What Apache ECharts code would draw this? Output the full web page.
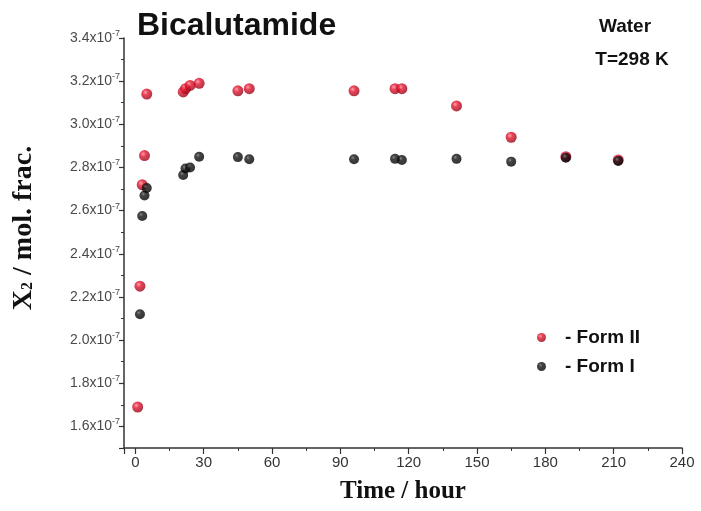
<!DOCTYPE html>
<html>
<head>
<meta charset="utf-8">
<script src="https://cdn.jsdelivr.net/npm/echarts@6/dist/echarts.min.js"></script>
<style>
html,body{margin:0;padding:0;background:#fff;}
#chart{width:701px;height:511px;}
</style>
</head>
<body>
<div id="chart"></div>
<script>
// Time (hour) and mole fraction values (in units of 1e-7)
const hoursII = [1, 2, 3, 4, 5, 21, 22, 24, 28, 45, 50, 96, 114, 117, 141, 165, 189, 212];
const formII  = [1.69, 2.25, 2.72, 2.855, 3.14, 3.15, 3.165, 3.18, 3.19, 3.155, 3.165, 3.155, 3.165, 3.165, 3.085, 2.94, 2.85, 2.835];
const hoursI  = [2, 3, 4, 5, 21, 22, 24, 28, 45, 50, 96, 114, 117, 141, 165, 189, 212];
const formI   = [2.12, 2.575, 2.67, 2.705, 2.765, 2.795, 2.80, 2.85, 2.848, 2.838, 2.838, 2.84, 2.835, 2.84, 2.827, 2.845, 2.83];
const seriesNames = ['Form II', 'Form I'];
const xTickStep = 30;
const yTickStep = 0.2;

const redBall = {type:'radial', x:0.38, y:0.35, r:0.7, colorStops:[
  {offset:0, color:'#ff8a96'}, {offset:0.35, color:'#e4132e'}, {offset:1, color:'#8e0415'}]};
const blackBall = {type:'radial', x:0.38, y:0.35, r:0.7, colorStops:[
  {offset:0, color:'#6a6a6a'}, {offset:0.3, color:'#141414'}, {offset:1, color:'#000'}]};

const chart = echarts.init(document.getElementById('chart'), null, {renderer:'canvas'});
const SANS = 'Liberation Sans, Arial, sans-serif';
const SERIF = 'Liberation Serif, Times New Roman, serif';

chart.setOption({
  backgroundColor:'#fff',
  animation:false,
  grid:{left:124, right:19, top:38, bottom:63, containLabel:false},
  xAxis:{
    type:'value', min:-5, max:240, splitNumber:8, minInterval:xTickStep, maxInterval:xTickStep,
    name:'Time / hour', nameLocation:'middle', nameGap:31,
    nameTextStyle:{fontFamily:SERIF, fontWeight:'bold', fontSize:25, color:'#111'},
    axisLine:{onZero:false, lineStyle:{color:'#333', width:1.5}},
    axisTick:{show:true, inside:false, length:6, lineStyle:{color:'#333', width:1.2}},
    minorTick:{show:true, splitNumber:2, length:3, lineStyle:{color:'#333', width:1}},
    splitLine:{show:false},
    axisLabel:{margin:7, fontFamily:SANS, fontSize:15, color:'#333',
      formatter:v => (v >= 0 && Math.round(v) % xTickStep === 0) ? String(Math.round(v)) : ''}
  },
  yAxis:{
    type:'value', min:1.5, max:3.4, splitNumber:10, minInterval:yTickStep, maxInterval:yTickStep,
    axisLine:{onZero:false, lineStyle:{color:'#333', width:1.5}},
    axisTick:{show:true, inside:false, length:5, lineStyle:{color:'#333', width:1.2}},
    minorTick:{show:true, splitNumber:2, length:3, lineStyle:{color:'#333', width:1}},
    splitLine:{show:false},
    axisLabel:{margin:4,
      formatter:v => { const r = Math.round(v*10); if (r % 2 !== 0) return ''; return '{m|' + v.toFixed(1) + 'x10}{e|-7}'; },
      rich:{
        m:{fontFamily:SANS, fontSize:14, color:'#4a4a4a'},
        e:{fontFamily:SANS, fontSize:9, color:'#4a4a4a', padding:[0,0,9,0]}
      }
    }
  },
  legend:{
    data:seriesNames, orient:'vertical', left:532, top:323, icon:'circle',
    itemWidth:9, itemHeight:9, itemGap:10,
    formatter:'- {name}',
    textStyle:{fontFamily:SANS, fontSize:19, fontWeight:'bold', color:'#111', padding:[0,0,0,14]}
  },
  graphic:[
    {type:'text', left:137, top:10, style:{text:'Bicalutamide', font:'bold 32px ' + SANS, fill:'#111'}},
    {type:'text', x:625, y:27, style:{text:'Water', font:'bold 19px ' + SANS, fill:'#111', align:'center', verticalAlign:'middle'}},
    {type:'text', x:632, y:60, style:{text:'T=298 K', font:'bold 19px ' + SANS, fill:'#111', align:'center', verticalAlign:'middle'}},
    {type:'text', x:24, y:228, rotation:Math.PI/2,
      style:{text:'{a|X}{b|2}{a| / mol. frac.}', align:'center', verticalAlign:'middle',
        rich:{a:{fontFamily:SERIF, fontWeight:'bold', fontSize:28, fill:'#111', color:'#111'},
              b:{fontFamily:SERIF, fontWeight:'bold', fontSize:16, fill:'#111', color:'#111', padding:[7,0,0,0]}}}}
  ],
  series:[
    {name:seriesNames[0], type:'scatter', symbol:'circle', symbolSize:11,
      itemStyle:{color:redBall}, data:hoursII.map((h,i)=>[h, formII[i]]), z:2},
    {name:seriesNames[1], type:'scatter', symbol:'circle', symbolSize:10,
      itemStyle:{color:blackBall}, data:hoursI.map((h,i)=>[h, formI[i]]), z:3}
  ]
});
</script>
</body>
</html>
